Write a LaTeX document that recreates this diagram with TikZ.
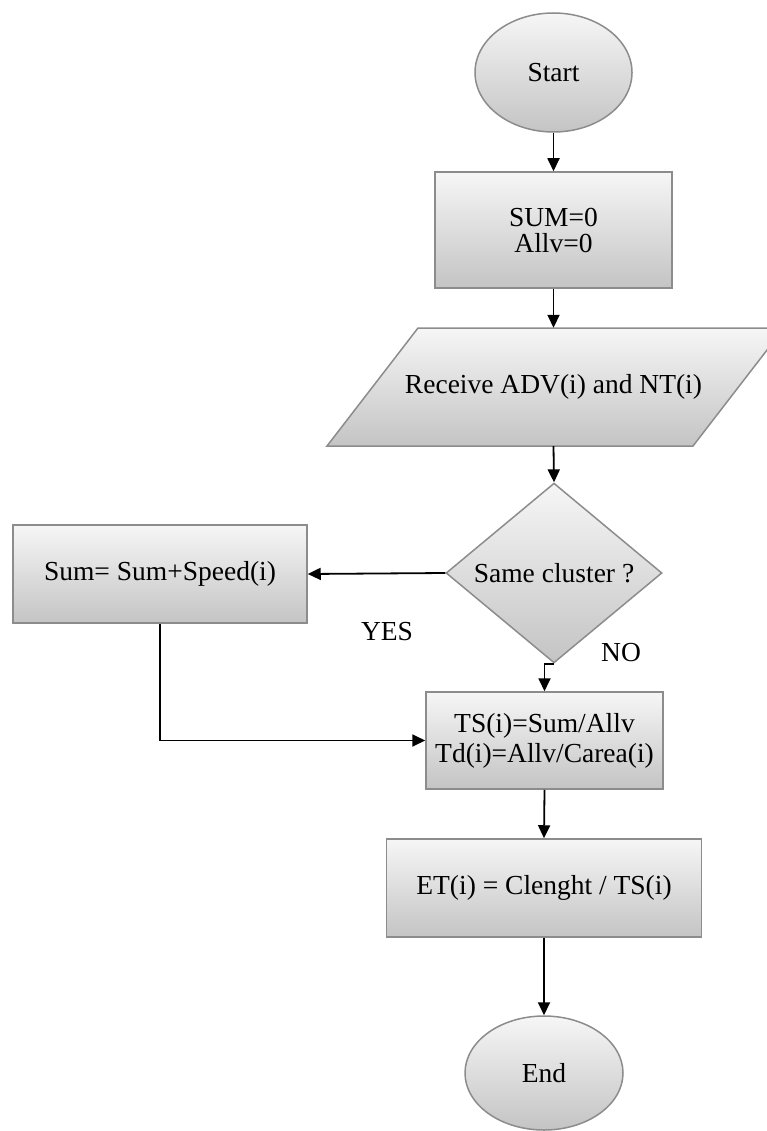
\documentclass[tikz,border=0pt]{standalone}
\usepackage{fontspec}
\setmainfont{Liberation Serif}
\usetikzlibrary{shapes.geometric,arrows.meta,calc}
\definecolor{edgegray}{HTML}{8C8C8C}
\definecolor{topfill}{HTML}{F6F6F6}
\definecolor{botfill}{HTML}{C4C4C4}
\tikzset{
  base/.style={draw=edgegray, line width=1.5pt, top color=topfill, bottom color=botfill, inner sep=0pt, align=center,
    font=\fontsize{27.5}{27}\selectfont},
  terminal/.style={base, ellipse},
  procbox/.style={base, rectangle},
  decbox/.style={base, diamond},
  ghost/.style={rectangle, inner sep=0pt, font=\fontsize{27.5}{27}\selectfont},
  flow/.style={line width=1.8pt, -{Triangle[length=13pt,width=12pt]}},
  lbl/.style={font=\fontsize{27.5}{27}\selectfont}
}
\begin{document}
\begin{tikzpicture}[x=1pt,y=-1pt]
\useasboundingbox (0,0) rectangle (767,1131);
\node[terminal, minimum width=157pt, minimum height=119pt] (start) at (553.5,72.5) {Start};
\node[procbox, minimum width=237pt, minimum height=116pt, font=\fontsize{27.5}{26}\selectfont] (init) at (553.5,230) {SUM=0\\Allv=0};
% parallelogram
\path[base] (327,446) -- (693,446) -- (784,328) -- (418,328) -- cycle;
\node[ghost, minimum width=10pt, minimum height=118pt] (recv) at (553.5,387) {Receive ADV(i) and NT(i)};
\node[decbox, minimum width=216pt, minimum height=156pt] (dec) at (554,573) {Same cluster ?};
\node[procbox, minimum width=294pt, minimum height=98pt] (sum) at (160,574) {Sum= Sum+Speed(i)};
\node[procbox, minimum width=237pt, minimum height=97pt, font=\fontsize{27.5}{30}\selectfont] (ts) at (544.5,740.5) {TS(i)=Sum/Allv\\Td(i)=Allv/Carea(i)};
\node[procbox, minimum width=315pt, minimum height=98pt] (et) at (544,888) {ET(i) = Clenght / TS(i)};
\node[terminal, minimum width=158pt, minimum height=114pt] (end) at (544,1073) {End};
\node[lbl] (yes) at (387,632) {YES};
\node[lbl] (no) at (621,653) {NO};
\draw[flow] (start.south) -- (init.north);
\draw[flow] (init.south) -- (recv.north);
\draw[flow] (recv.south) -- (dec.north);
\draw[flow] (dec.west) -- (sum.east);
\draw[flow] (dec.south) -- (dec.south -| ts.north) -- (ts.north);
\draw[flow] (sum.south) |- (ts.west);
\draw[flow] (ts.south) -- (et.north);
\draw[flow] (et.south) -- (end.north);
\end{tikzpicture}
\end{document}
